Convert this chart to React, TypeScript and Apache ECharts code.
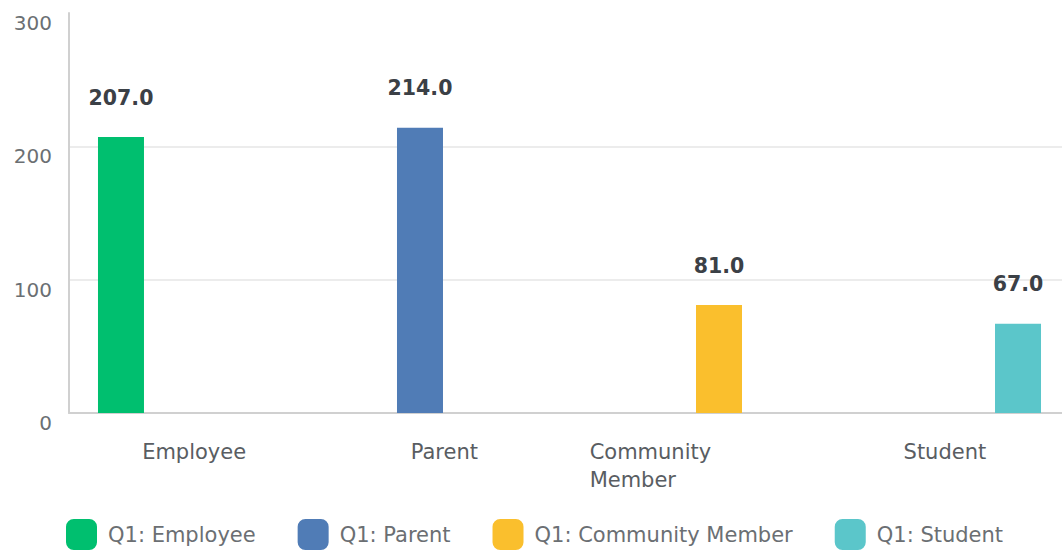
import React, { useEffect, useRef } from "react";
import * as echarts from "echarts";

const categories = ["Employee", "Parent", "Community Member", "Student"];
const seriesNames = ["Q1: Employee", "Q1: Parent", "Q1: Community Member", "Q1: Student"];
const employeeValues = [207, null, null, null];
const parentValues = [null, 214, null, null];
const communityValues = [null, null, 81, null];
const studentValues = [null, null, null, 67];
const colors = ["#00BF6F", "#507CB6", "#FABF2D", "#5BC6CA"];
const yTicks = { min: 0, max: 300, interval: 100 };

const FONT = "DejaVu Sans";

export default function App() {
  const ref = useRef<HTMLDivElement>(null);
  useEffect(() => {
    if (!ref.current) return;
    document.body.style.overflow = "hidden";
    const chart = echarts.init(ref.current, null, { renderer: "svg" });
    const allValues = [employeeValues, parentValues, communityValues, studentValues];
    chart.setOption({
      animation: false,
      color: colors,
      textStyle: { fontFamily: FONT },
      grid: { left: 69, right: 0, top: 13, bottom: 138, containLabel: false },
      legend: {
        left: 61,
        top: 514,
        itemWidth: 31,
        itemHeight: 31,
        itemGap: 42,
        icon: "roundRect",
        textStyle: { fontFamily: FONT, fontSize: 21, color: "#6b6f73", padding: [0, 0, 0, 6] },
        data: seriesNames,
      },
      xAxis: {
        type: "category",
        data: categories,
        axisLine: { lineStyle: { color: "#d0d0d0", width: 2 } },
        axisTick: { show: false },
        axisLabel: {
          interval: 0,
          margin: 25,
          fontFamily: FONT,
          fontSize: 21,
          color: "#595d62",
          lineHeight: 28,
          formatter: (v: string) =>
            v === "Community Member" ? "{l|Community}\n{l|Member}" : v,
          rich: {
            l: { width: 210, align: "left", fontFamily: FONT, fontSize: 21, color: "#595d62", lineHeight: 28 },
          },
        },
      },
      yAxis: {
        type: "value",
        min: yTicks.min,
        max: yTicks.max,
        interval: yTicks.interval,
        axisLine: { show: true, lineStyle: { color: "#d0d0d0", width: 2 } },
        axisTick: { show: false },
        splitLine: {
          lineStyle: { color: ["#ececec", "#ececec", "#ececec", "rgba(0,0,0,0)"], width: 2 },
        },
        axisLabel: {
          margin: 17,
          fontFamily: FONT,
          fontSize: 20,
          color: "#6b6f73",
          verticalAlign: "top",
        },
      },
      series: seriesNames.map((name, i) => ({
        name,
        type: "bar",
        data: allValues[i],
        barWidth: 46,
        barGap: "6%",
        itemStyle: { color: colors[i] },
        label: {
          show: true,
          position: "top",
          distance: 29,
          fontFamily: FONT,
          fontSize: 20.5,
          fontWeight: 600,
          color: "#3b4046",
          formatter: (p: any) => (p.value == null ? "" : Number(p.value).toFixed(1)),
        },
      })),
    });
    return () => chart.dispose();
  }, []);
  return (
    <div
      ref={ref}
      style={{ position: "fixed", left: 0, top: 0, width: 1070, height: 551, background: "#fff" }}
    />
  );
}
